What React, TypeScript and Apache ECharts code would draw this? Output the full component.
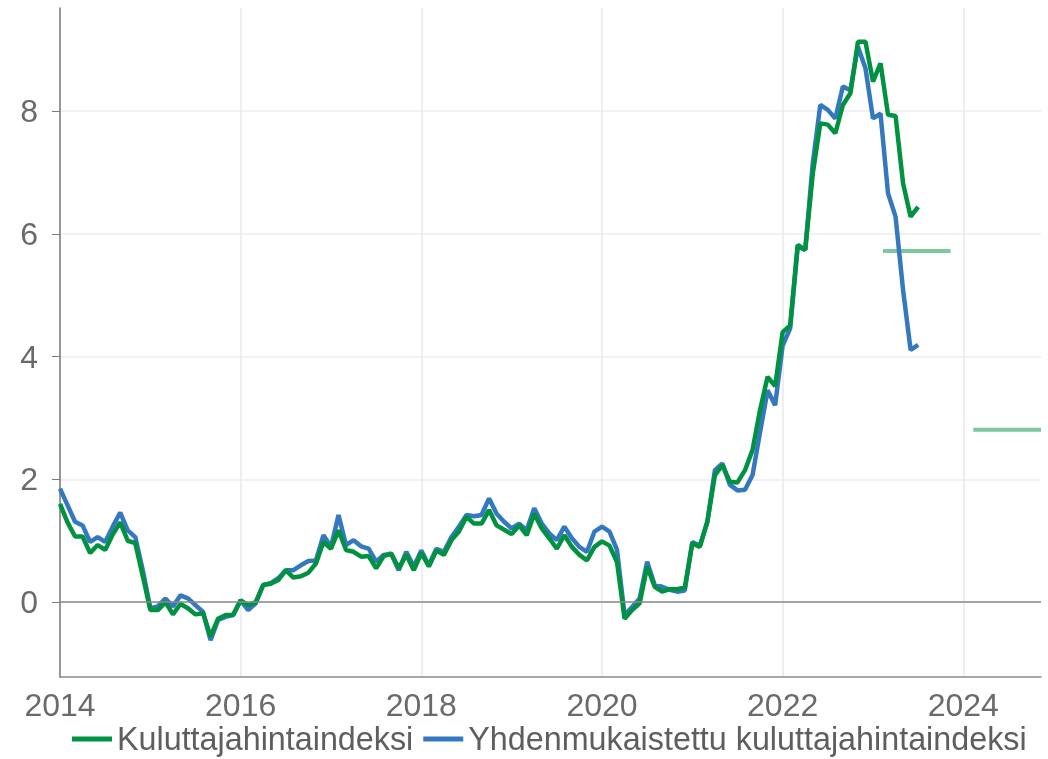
import React, { useEffect, useRef } from "react";
import * as echarts from "echarts";

// Monthly year-on-year change (%), Jan 2014 .. Jul 2023
const startYear = 2014;
const cpi = [
  1.6, 1.3, 1.07, 1.07, 0.8, 0.93, 0.85, 1.1, 1.3, 1.0, 0.96, 0.42,
  -0.13, -0.13, 0.0, -0.2, -0.03, -0.1, -0.2, -0.18, -0.56, -0.27, -0.21, -0.21,
  0.03, -0.05, 0.0, 0.28, 0.3, 0.36, 0.52, 0.4, 0.42, 0.48, 0.63, 0.98,
  0.87, 1.17, 0.85, 0.82, 0.74, 0.75, 0.55, 0.75, 0.79, 0.55, 0.77, 0.52,
  0.8, 0.58, 0.84, 0.77, 1.01, 1.15, 1.39, 1.28, 1.28, 1.5, 1.25, 1.18,
  1.11, 1.25, 1.09, 1.44, 1.2, 1.04, 0.87, 1.09, 0.9, 0.77, 0.68, 0.9,
  0.99, 0.92, 0.65, -0.27, -0.13, -0.02, 0.58, 0.25, 0.17, 0.21, 0.21, 0.24,
  0.96, 0.9, 1.31, 2.07, 2.23, 1.96, 1.95, 2.15, 2.48, 3.13, 3.67, 3.52,
  4.4, 4.51, 5.82, 5.74, 6.98, 7.8, 7.78, 7.64, 8.1, 8.29, 9.13, 9.13,
  8.48, 8.78, 7.94, 7.92, 6.82, 6.28, 6.44,
];
const hicp = [
  1.85, 1.58, 1.31, 1.25, 0.98, 1.06, 0.98, 1.23, 1.46, 1.17, 1.06, 0.52,
  -0.1, -0.07, 0.06, -0.07, 0.11, 0.06, -0.05, -0.16, -0.62, -0.29, -0.24, -0.21,
  0.03, -0.13, -0.02, 0.28, 0.31, 0.39, 0.52, 0.52, 0.6, 0.67, 0.68, 1.09,
  0.9, 1.42, 0.93, 1.01, 0.91, 0.87, 0.66, 0.77, 0.79, 0.52, 0.82, 0.58,
  0.84, 0.6, 0.87, 0.82, 1.06, 1.23, 1.42, 1.4, 1.42, 1.69, 1.44, 1.31,
  1.2, 1.28, 1.17, 1.53, 1.28, 1.12, 1.01, 1.23, 1.04, 0.9, 0.82, 1.15,
  1.23, 1.15, 0.85, -0.21, -0.08, 0.06, 0.66, 0.28, 0.25, 0.2, 0.17, 0.19,
  0.98, 0.92, 1.31, 2.15, 2.26, 1.91, 1.82, 1.83, 2.07, 2.77, 3.45, 3.21,
  4.18, 4.46, 5.79, 5.74, 7.15, 8.1, 8.02, 7.88, 8.4, 8.34, 9.05, 8.7,
  7.88, 7.96, 6.66, 6.28, 5.08, 4.11, 4.19,
];
// Forecasts (annual averages)
const forecastYears = [2023, 2024];
const forecastValues = [5.72, 2.81];

const seriesNames = ["Kuluttajahintaindeksi", "Yhdenmukaistettu kuluttajahintaindeksi"];
const GREEN = "#009240";
const BLUE = "#3479bf";
const FC = "rgba(0,146,64,0.5)";

export default function App() {
  const ref = useRef<HTMLDivElement>(null);
  useEffect(() => {
    if (!ref.current) return;
    const chart = echarts.init(ref.current, null, { renderer: "svg" });
    const toPts = (arr: number[]) => arr.map((v, i) => [startYear + i / 12, v]);
    const labelFont = { fontFamily: "Liberation Sans, Arial, sans-serif", fontSize: 32, color: "#6a6a6a" };
    const fcSeries = forecastYears.map((y, i) => ({
      name: "Ennuste " + y,
      type: "line",
      symbol: "none",
      silent: true,
      data: [[y + 0.11, forecastValues[i]], [y + 0.86, forecastValues[i]]],
      lineStyle: { color: FC, width: 4 },
      itemStyle: { color: FC },
      z: 1,
    }));
    chart.setOption({
      animation: false,
      grid: { left: 60, right: 7, top: 8, bottom: 82 },
      legend: {
        data: seriesNames,
        left: 67,
        top: 718,
        itemWidth: 40,
        itemHeight: 5,
        itemGap: 10,
        icon: "rect",
        textStyle: { ...labelFont, fontSize: 32.3, color: "#5e5e5e" },
      },
      xAxis: {
        type: "value",
        min: 2014,
        max: 2024.86,
        interval: 2,
        axisLine: { show: true, onZero: false, lineStyle: { color: "#8a8a8a", width: 1.5 } },
        axisTick: { show: false },
        axisLabel: { ...labelFont, margin: 12, showMaxLabel: false, formatter: (v: number) => String(v) },
        splitLine: { show: true, showMaxLine: false, lineStyle: { color: "#e8e8e8", width: 1.5 } },
      },
      yAxis: {
        type: "value",
        min: -1.22,
        max: 9.68,
        splitNumber: 5,
        axisLine: { show: true, onZero: false, lineStyle: { color: "#7a7a7a", width: 1.5 } },
        axisTick: { show: true, length: 8, lineStyle: { color: "#7a7a7a" } },
        axisLabel: { ...labelFont, margin: 22, showMinLabel: false, showMaxLabel: false },
        splitLine: { show: true, showMinLine: false, showMaxLine: false, lineStyle: { color: "#ececec", width: 1.5 } },
      },
      series: [
        {
          name: seriesNames[1],
          type: "line",
          symbol: "none",
          data: toPts(hicp),
          lineStyle: { color: BLUE, width: 4.5 },
          itemStyle: { color: BLUE },
          z: 3,
          markLine: {
            silent: true,
            symbol: "none",
            label: { show: false },
            lineStyle: { color: "#8a8a8a", width: 1.5, type: "solid" },
            data: [{ yAxis: 0 }],
          },
        },
        {
          name: seriesNames[0],
          type: "line",
          symbol: "none",
          data: toPts(cpi),
          lineStyle: { color: GREEN, width: 4.5 },
          itemStyle: { color: GREEN },
          z: 4,
        },
        ...fcSeries,
      ],
    });
    return () => chart.dispose();
  }, []);
  return <div ref={ref} style={{ position: "fixed", left: 0, top: 0, width: 1048, height: 759 }} />;
}
